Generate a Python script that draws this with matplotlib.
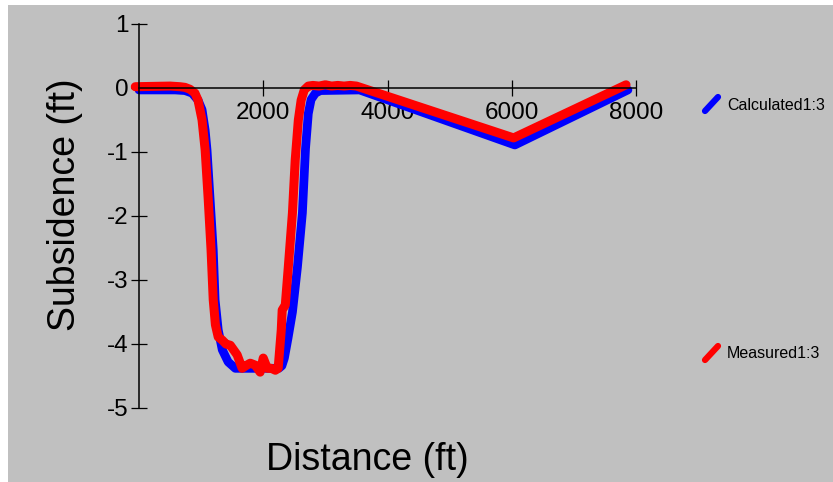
import numpy as np
import matplotlib
matplotlib.use("Agg")
import matplotlib.pyplot as plt
from matplotlib.lines import Line2D
from matplotlib.patches import Rectangle

# calculated 1:3 profile (distance ft, subsidence ft)
calc_x = [0, 580, 740, 855, 950, 1015, 1065, 1095, 1145, 1195, 1225, 1275, 1340, 1435,
          1550, 2250, 2300, 2340, 2400, 2470, 2550, 2630, 2680, 2725, 2770, 2840, 2920,
          3550, 6050, 7870]
calc_y = [-0.03, -0.03, -0.04, -0.08, -0.19, -0.34, -0.66, -0.97, -1.75, -2.53, -3.31,
          -3.78, -4.09, -4.28, -4.38, -4.38, -4.34, -4.22, -3.9, -3.5, -2.8, -1.95, -0.95,
          -0.4, -0.18, -0.08, -0.04, -0.03, -0.89, -0.03]

# measured 1:3 profile
meas_x = [-60, 500, 660, 740, 820, 900, 950, 1015, 1065, 1115, 1160, 1195, 1230, 1275,
          1340, 1400, 1470, 1580, 1660, 1720, 1790, 1870, 1950, 2000, 2065, 2130, 2195,
          2240, 2290, 2305, 2355, 2400, 2470, 2515, 2565, 2610, 2660, 2725, 2800, 2900,
          3000, 3100, 3200, 3300, 3400, 3500, 6030, 7840]
meas_y = [0.02, 0.03, 0.02, 0.01, -0.02, -0.08, -0.19, -0.5, -0.97, -1.75, -2.53, -3.31,
          -3.7, -3.89, -3.94, -4.0, -4.02, -4.17, -4.38, -4.34, -4.3, -4.33, -4.44, -4.22,
          -4.38, -4.38, -4.41, -4.38, -3.78, -3.47, -3.39, -2.84, -1.95, -1.12, -0.5,
          -0.19, -0.03, 0.03, 0.04, 0.03, 0.05, 0.03, 0.04, 0.03, 0.04, 0.03, -0.78, 0.05]

x_ticks = [2000, 4000, 6000, 8000]
y_ticks = [1, 0, -1, -2, -3, -4, -5]

W, H = 833, 482
plt.rcParams['font.family'] = ['Liberation Sans', 'DejaVu Sans']

fig = plt.figure(figsize=(W / 100, H / 100), dpi=100, facecolor='white')
fig.add_artist(Rectangle((8 / W, 0), 1 - 8 / W, 1 - 5 / H, transform=fig.transFigure,
                         facecolor='#c0c0c0', edgecolor='none', zorder=0))

ax = fig.add_axes([139 / W, 1 - 408 / H, (636 - 139) / W, (408 - 24) / H])
ax.patch.set_visible(False)
ax.set_xlim(0, 8000)
ax.set_ylim(-5, 1)

ax.plot(calc_x, calc_y, color='#0000ff', lw=6.3, solid_capstyle='round',
        solid_joinstyle='round', clip_on=False)
ax.plot(meas_x, meas_y, color='#ff0000', lw=6.5, solid_capstyle='round',
        solid_joinstyle='round', clip_on=False)

for s in ['top', 'right']:
    ax.spines[s].set_visible(False)
ax.spines['left'].set_position(('data', 0))
ax.spines['bottom'].set_position(('data', 0))
for s in ['left', 'bottom']:
    ax.spines[s].set_linewidth(1.1)
    ax.spines[s].set_zorder(5)

ax.set_xticks(x_ticks)
ax.set_xticklabels([str(v) for v in x_ticks])
ax.set_yticks(y_ticks)
ax.set_yticklabels([str(v) for v in y_ticks])
ax.tick_params(axis='both', direction='inout', length=12, width=0.9, labelsize=17.5,
               colors='black')
ax.tick_params(axis='x', pad=4)
ax.tick_params(axis='y', pad=1.5)

fig.text(65 / W, 1 - 205 / H, 'Subsidence (ft)', rotation=90, ha='center', va='center',
         fontsize=27)
fig.text(367 / W, 1 - 460 / H, 'Distance (ft)', ha='center', va='center', fontsize=27)

# legend
legend_items = [('Calculated1:3', '#0000ff', 105), ('Measured1:3', '#ff0000', 354)]
for label, col, yc in legend_items:
    fig.add_artist(Line2D([705 / W, 718 / W], [1 - (yc + 6) / H, 1 - (yc - 8) / H],
                          transform=fig.transFigure, color=col, lw=4.5,
                          solid_capstyle='round'))
    fig.text(727 / W, 1 - yc / H, label, ha='left', va='center', fontsize=11.5)

fig.savefig('out.png', dpi=100)
